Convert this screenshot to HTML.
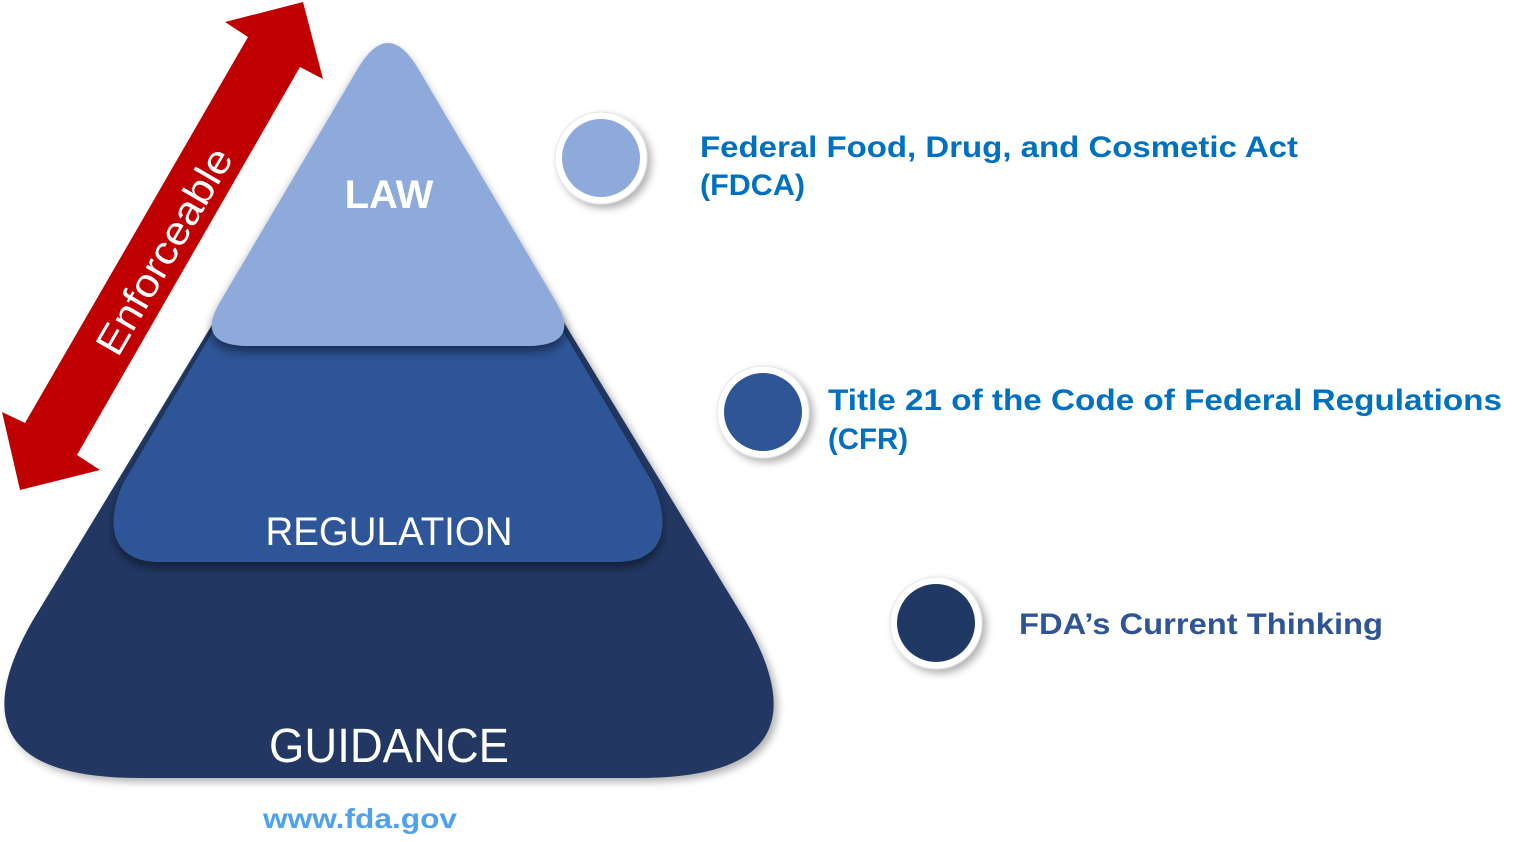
<!DOCTYPE html>
<html><head><meta charset="utf-8"><style>
html,body{margin:0;padding:0;background:#fff;width:1536px;height:842px;overflow:hidden}
</style></head><body>
<svg width="1536" height="842" viewBox="0 0 1536 842" xmlns="http://www.w3.org/2000/svg" font-family="Liberation Sans, sans-serif">
<defs>
<filter id="sh" x="-20%" y="-20%" width="140%" height="140%"><feDropShadow dx="4" dy="4" stdDeviation="4" flood-color="#000" flood-opacity="0.3"/></filter>
<filter id="sh2" x="-20%" y="-20%" width="140%" height="140%"><feDropShadow dx="0" dy="6" stdDeviation="5" flood-color="#000" flood-opacity="0.45"/></filter>
</defs>
<!-- arrow -->
<polygon points="303,2 323,79 300,67 77,455 100,470 20,490 2,412 25,423 248,37 225,22" fill="#c00000"/>
<text x="0" y="0" transform="translate(176,258) rotate(-59.9)" text-anchor="middle" fill="#fff" font-size="40" textLength="232" lengthAdjust="spacingAndGlyphs">Enforceable</text>
<!-- guidance -->
<path filter="url(#sh)" fill="#203864" d="M318,150 L459,150 L745,620 Q836,778 638,778 L140,778 Q-58,778 33,620 Z"/>
<!-- regulation -->
<path filter="url(#sh2)" fill="#2f5597" d="M320,150 L456,150 L651,480 C666,508 676,562 616,562 L160,562 C100,562 110,508 125,480 Z"/>
<!-- law -->
<path filter="url(#sh2)" fill="#8eaadb" d="M357,70 Q388,16 419,70 L556,302 Q582,346 526,346 L250,346 Q194,346 220,302 Z"/>
<text x="389" y="208" text-anchor="middle" fill="#fff" font-size="40" font-weight="bold">LAW</text>
<text x="389" y="545" text-anchor="middle" fill="#fff" font-size="40" textLength="247" lengthAdjust="spacingAndGlyphs">REGULATION</text>
<text x="389" y="762" text-anchor="middle" fill="#fff" font-size="48" textLength="240" lengthAdjust="spacingAndGlyphs">GUIDANCE</text>
<text x="360" y="828" text-anchor="middle" fill="#4ea1ef" font-size="28" font-weight="bold" textLength="194" lengthAdjust="spacingAndGlyphs">www.fda.gov</text>
<!-- circles -->
<g filter="url(#sh)">
<circle cx="601" cy="158" r="46" fill="#fff" stroke="#e6e6e6" stroke-width="1"/>
<circle cx="763" cy="412" r="46" fill="#fff" stroke="#e6e6e6" stroke-width="1"/>
<circle cx="936" cy="623" r="46" fill="#fff" stroke="#e6e6e6" stroke-width="1"/>
</g>
<circle cx="601" cy="158" r="39" fill="#8eaadb"/>
<circle cx="763" cy="412" r="39" fill="#2f5597"/>
<circle cx="936" cy="623" r="39" fill="#203864"/>
<g fill="#0070c0" font-size="30" font-weight="bold">
<text x="700" y="157" textLength="598" lengthAdjust="spacingAndGlyphs">Federal Food, Drug, and Cosmetic Act</text>
<text x="700" y="195" textLength="105" lengthAdjust="spacingAndGlyphs">(FDCA)</text>
<text x="828" y="410" textLength="674" lengthAdjust="spacingAndGlyphs">Title 21 of the Code of Federal Regulations</text>
<text x="828" y="449" textLength="80" lengthAdjust="spacingAndGlyphs">(CFR)</text>
</g>
<text x="1019" y="634" fill="#2f5597" font-size="30" font-weight="bold" textLength="364" lengthAdjust="spacingAndGlyphs">FDA’s Current Thinking</text>
</svg>
</body></html>
